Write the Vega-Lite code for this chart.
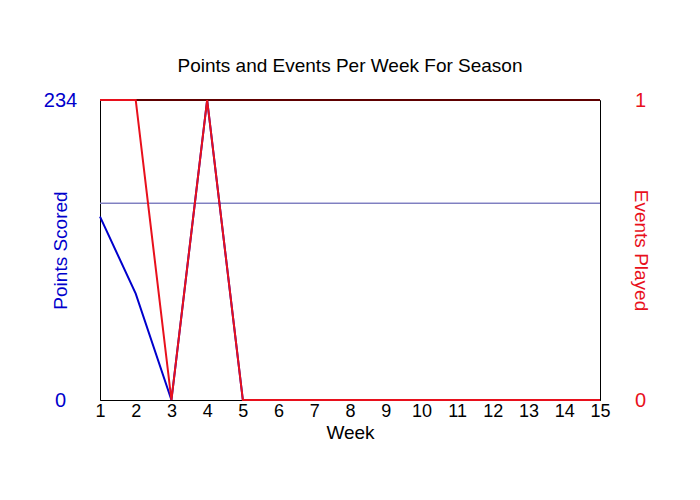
{
  "$schema": "https://vega.github.io/schema/vega-lite/v6.json",
  "autosize": {"type": "none"},
  "width": 500,
  "height": 300,
  "padding": {"left": 100, "top": 100, "right": 100, "bottom": 100},
  "background": "white",
  "config": {
    "font": "Liberation Sans",
    "view": {"stroke": "black", "strokeWidth": 1},
    "axis": {"grid": false, "ticks": false, "domain": false, "labelFont": "Liberation Sans", "titleFont": "Liberation Sans", "titleFontWeight": "normal", "labelOverlap": false}
  },
  "title": {"text": "Points and Events Per Week For Season", "fontSize": 19, "fontWeight": "normal", "color": "black", "offset": 14, "anchor": "middle"},
  "data": {"values": [
    {"week": 1, "points": 143, "events": 1},
    {"week": 2, "points": 83, "events": 1},
    {"week": 3, "points": 0, "events": 0},
    {"week": 4, "points": 234, "events": 1},
    {"week": 5, "points": 0, "events": 0},
    {"week": 6, "points": 0, "events": 0},
    {"week": 7, "points": 0, "events": 0},
    {"week": 8, "points": 0, "events": 0},
    {"week": 9, "points": 0, "events": 0},
    {"week": 10, "points": 0, "events": 0},
    {"week": 11, "points": 0, "events": 0},
    {"week": 12, "points": 0, "events": 0},
    {"week": 13, "points": 0, "events": 0},
    {"week": 14, "points": 0, "events": 0},
    {"week": 15, "points": 0, "events": 0}
  ]},
  "layer": [
    {
      "layer": [
        {
          "mark": {"type": "rule", "color": "#8080c0", "strokeWidth": 1},
          "encoding": {"y": {"datum": 153.3, "type": "quantitative"}}
        },
        {
          "mark": {"type": "line", "color": "#0000cc", "strokeWidth": 2},
          "encoding": {
            "x": {"field": "week", "type": "quantitative", "scale": {"domain": [1, 15], "nice": false},
              "axis": {"values": [1,2,3,4,5,6,7,8,9,10,11,12,13,14,15], "labelOverlap": false, "labelBound": false, "title": "Week", "labelFontSize": 18, "labelColor": "black", "labelPadding": 2, "titleFontSize": 19, "titleColor": "black", "titlePadding": 3, "domain": true, "domainColor": "black", "labelFlush": false}},
            "y": {"field": "points", "type": "quantitative", "scale": {"domain": [0, 234], "nice": false, "zero": true},
              "axis": {"orient": "left", "values": [0, 234], "title": "Points Scored", "labelFontSize": 20, "labelColor": "#0000cc", "labelAlign": "center", "labelBaseline": "middle", "labelPadding": 40, "titleFontSize": 19, "titleColor": "#0000cc", "titleAngle": -90, "titleX": -40, "titleY": 150, "titleAlign": "center", "titleBaseline": "middle"}}
          }
        }
      ]
    },
    {
      "layer": [
        {
          "mark": {"type": "rule", "color": "#600000", "strokeWidth": 1},
          "encoding": {"y": {"datum": 1, "type": "quantitative"}}
        },
        {
          "mark": {"type": "line", "color": "#e8101c", "strokeWidth": 2},
          "encoding": {
            "x": {"field": "week", "type": "quantitative", "scale": {"domain": [1, 15], "nice": false},
              "axis": {"values": [1,2,3,4,5,6,7,8,9,10,11,12,13,14,15], "labelOverlap": false, "labelBound": false, "title": "Week", "labelFontSize": 18, "labelColor": "black", "labelPadding": 2, "titleFontSize": 19, "titleColor": "black", "titlePadding": 3, "domain": true, "domainColor": "black", "labelFlush": false}},
            "y": {"field": "events", "type": "quantitative", "scale": {"domain": [0, 1], "nice": false},
              "axis": {"orient": "right", "values": [0, 1], "format": "d", "title": "Events Played", "labelFontSize": 20, "labelColor": "#e8101c", "labelAlign": "center", "labelBaseline": "middle", "labelPadding": 40, "titleFontSize": 19, "titleColor": "#e8101c", "titleAngle": 90, "titleX": 40, "titleY": 150, "titleAlign": "center", "titleBaseline": "middle"}}
          }
        }
      ]
    }
  ],
  "resolve": {"scale": {"y": "independent"}}
}
